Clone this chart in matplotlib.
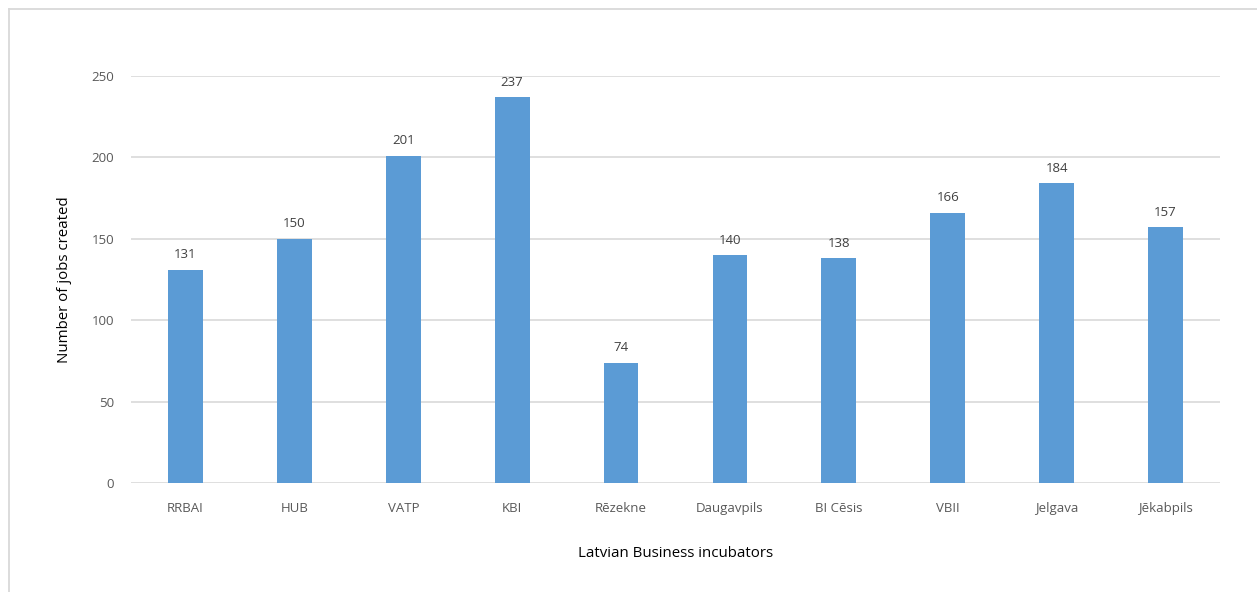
import matplotlib
matplotlib.use("Agg")
import matplotlib.pyplot as plt
from matplotlib.lines import Line2D

categories = ["RRBAI", "HUB", "VATP", "KBI", "Rēzekne", "Daugavpils", "BI Cēsis", "VBII", "Jelgava", "Jēkabpils"]
jobs = [131, 150, 201, 237, 74, 140, 138, 166, 184, 157]
yticks = [0, 50, 100, 150, 200, 250]

plt.rcParams['font.family'] = ['Open Sans', 'DejaVu Sans']

fig = plt.figure(figsize=(12.57, 5.92), dpi=100)
ax = fig.add_axes([131/1257, 109/592, (1220-131)/1257, (483-76)/592])

x = list(range(len(categories)))
bars = ax.bar(x, jobs, width=0.32, color="#5b9bd5", zorder=3)
for xi, v in zip(x, jobs):
    ax.annotate(str(v), (xi, v), xytext=(0, 6), textcoords="offset points",
                ha="center", va="bottom", fontsize=9.5, color="#404040")

ax.set_xlim(-0.5, len(categories) - 0.5)
ax.set_ylim(0, 250)
ax.set_yticks(yticks)
ax.set_xticks(x)
ax.set_xticklabels(categories)
ax.yaxis.grid(True, color="#d9d9d9", linewidth=1.2, zorder=0)
for s in ax.spines.values():
    s.set_visible(False)
ax.tick_params(axis="both", length=0, labelsize=9.5, labelcolor="#595959")
ax.tick_params(axis="x", pad=14)
ax.tick_params(axis="y", pad=12)
ax.set_xlabel("Latvian Business incubators", fontsize=10.8, color="#000000", labelpad=22)
ax.set_ylabel("Number of jobs created", fontsize=10.8, color="#000000", labelpad=14)

x0 = 8.5/1257
y0 = 1 - 8.5/592
fig.lines.append(Line2D([x0, x0], [0, y0], transform=fig.transFigure, color="#d9d9d9", linewidth=1.3))
fig.lines.append(Line2D([x0, 1], [y0, y0], transform=fig.transFigure, color="#d9d9d9", linewidth=1.3))

fig.savefig("out.png", dpi=100)
